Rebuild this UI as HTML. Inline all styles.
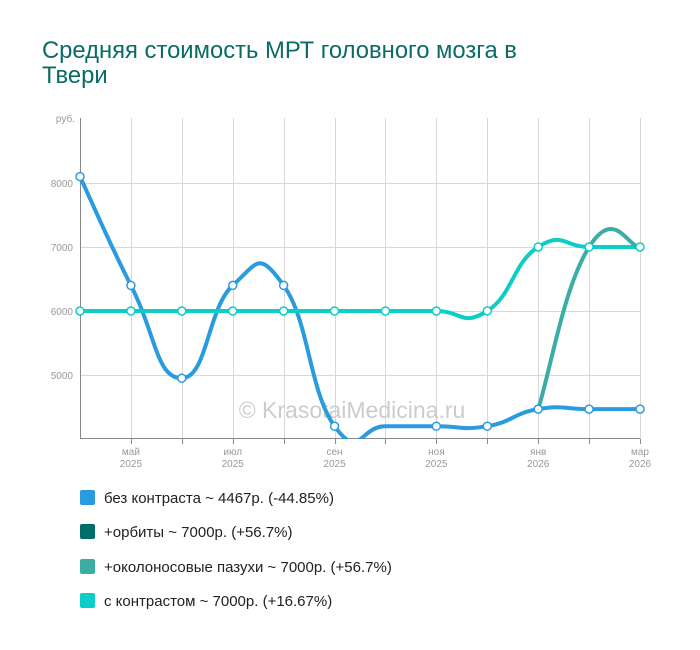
<!DOCTYPE html>
<html><head><meta charset="utf-8"><style>
body{margin:0;background:#fff;font-family:"Liberation Sans",sans-serif;}
.t{position:absolute;left:42px;top:38px;font-size:23.8px;line-height:25px;color:#0b6b66;width:530px}
.lg{position:absolute;left:80px;font-size:15px;color:#222}
.lg span{display:inline-block;width:15px;height:15px;border-radius:2px;vertical-align:-2px;margin-right:9px}
</style></head><body>
<div class="t">Средняя стоимость МРТ головного мозга в Твери</div>
<svg width="700" height="650" style="position:absolute;left:0;top:0" font-family="Liberation Sans, sans-serif">
<defs><clipPath id="c"><rect x="75" y="110" width="580" height="329"/></clipPath></defs>
<g stroke="#d8d8d8" stroke-width="1" id="grid"></g>
<g font-size="10" fill="#999" text-anchor="end">
<text x="75" y="122">руб.</text><text x="73" y="187">8000</text><text x="73" y="251">7000</text><text x="73" y="315">6000</text><text x="73" y="379">5000</text>
</g>
<line x1="80.5" y1="118" x2="80.5" y2="439" stroke="#888"/>
<line x1="80" y1="438.5" x2="640" y2="438.5" stroke="#888"/>
<text x="352" y="418" font-size="23" fill="#ccc" text-anchor="middle">© KrasotaiMedicina.ru</text>
<g font-size="10" fill="#999" text-anchor="middle" id="xl"></g>
<g clip-path="url(#c)" fill="none" stroke-width="4" stroke-linecap="round" id="ser"></g>
<g id="pts" fill="#fff" stroke-width="1.5"></g>
</svg>
<div class="lg" style="top:490px"><span style="background:#2b9be0"></span>без контраста ~ 4467р. (-44.85%)</div>
<div class="lg" style="top:524px"><span style="background:#006d6a"></span>+орбиты ~ 7000р. (+56.7%)</div>
<div class="lg" style="top:559px"><span style="background:#3aaea4"></span>+околоносовые пазухи ~ 7000р. (+56.7%)</div>
<div class="lg" style="top:593px"><span style="background:#0ccdc8"></span>с контрастом ~ 7000р. (+16.67%)</div>
<script>
var ns="http://www.w3.org/2000/svg";
function el(p,t,a,txt){var e=document.createElementNS(ns,t);for(var k in a)e.setAttribute(k,a[k]);if(txt)e.textContent=txt;document.getElementById(p).appendChild(e);}
var X=[];for(var i=0;i<12;i++)X.push(80+i*560/11);
function Y(v){return 439-(v-4000)*0.064;}
[8000,7000,6000,5000].forEach(function(v){el("grid","line",{x1:80,x2:640,y1:Y(v)+.5,y2:Y(v)+.5});});
for(var i=1;i<12;i++){el("grid","line",{x1:Math.round(X[i])+.5,x2:Math.round(X[i])+.5,y1:118,y2:439});el("grid","line",{x1:Math.round(X[i])+.5,x2:Math.round(X[i])+.5,y1:439,y2:444,stroke:"#888"});}
var lab={1:"май",3:"июл",5:"сен",7:"ноя",9:"янв",11:"мар"};
for(var k in lab){var x=X[k];el("xl","text",{x:x,y:455},lab[k]);el("xl","text",{x:x,y:467},k<9?"2025":"2026");}
function path(P){var d="M"+P[0][0]+","+P[0][1];for(var i=0;i<P.length-1;i++){var p0=P[i-1]||P[i],p1=P[i],p2=P[i+1],p3=P[i+2]||p2;var t=0.25;
d+=" C"+(p1[0]+(p2[0]-p0[0])*t)+","+(p1[1]+(p2[1]-p0[1])*t)+" "+(p2[0]-(p3[0]-p1[0])*t)+","+(p2[1]-(p3[1]-p1[1])*t)+" "+p2[0]+","+p2[1];}return d;}
var blue=[8100,6400,4950,6400,6400,4200,4200,4200,4200,4467,4467,4467];
var cyan=[6000,6000,6000,6000,6000,6000,6000,6000,6000,7000,7000,7000];
var dark=[[9,4467],[10,7000],[11,7000]];
var bp=blue.map(function(v,i){return[X[i],Y(v)]});
var cp=cyan.map(function(v,i){return[X[i],Y(v)]});
var dp=dark.map(function(a){return[X[a[0]],Y(a[1])]});
el("ser","path",{d:path(bp),stroke:"#2b9be0"});
el("ser","path",{d:path(cp),stroke:"#0ccdc8"});
el("ser","path",{d:path(dp),stroke:"#3aaea4"});
bp.forEach(function(p,i){if(i!=6)el("pts","circle",{cx:p[0],cy:p[1],r:4,stroke:"#2b9be0"});});
cp.forEach(function(p){el("pts","circle",{cx:p[0],cy:p[1],r:4,stroke:"#0ccdc8"});});
</script>
</body></html>
